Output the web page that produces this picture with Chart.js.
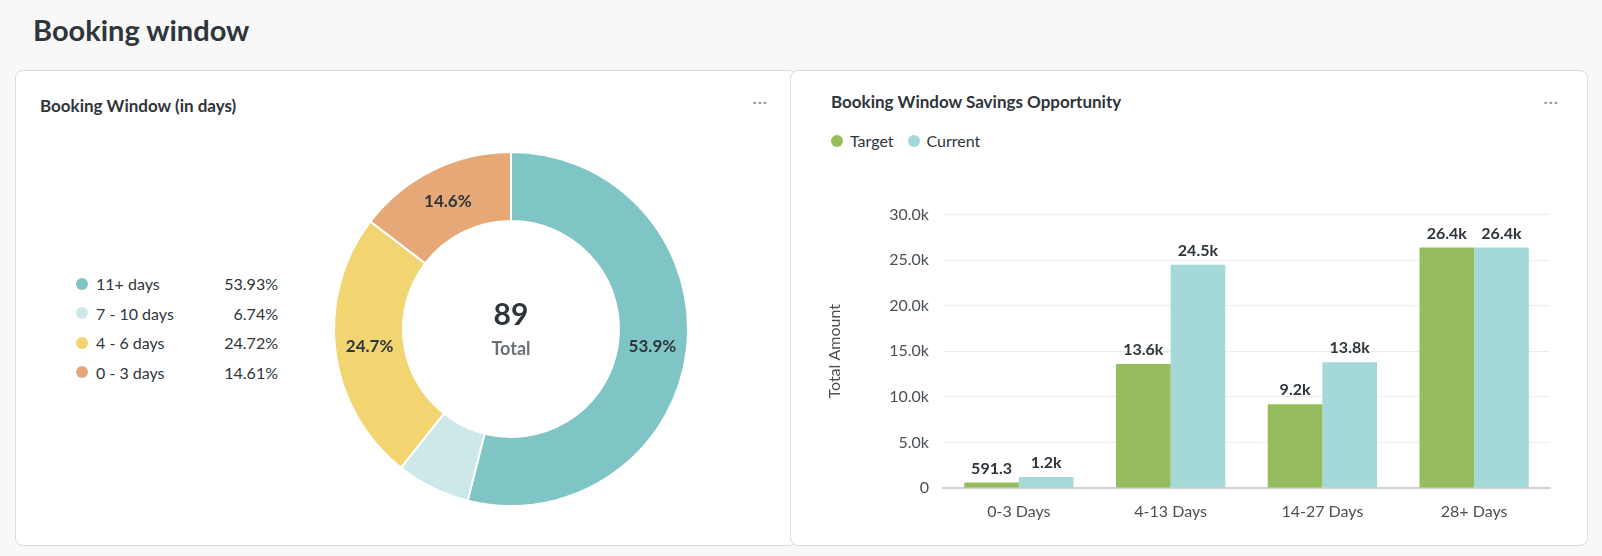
<!DOCTYPE html>
<html>
<head>
<meta charset="utf-8">
<script src="https://cdn.jsdelivr.net/npm/chart.js@4"></script>
<style>
  body { margin: 0; width: 1602px; height: 556px; background: #f8f8f8; font-family: Lato, sans-serif; color: #2e353b; position: relative; overflow: hidden; }
  h1 { position: absolute; left: 33px; top: 12px; margin: 0; font-size: 29px; font-weight: 700; }
  .card { position: absolute; top: 70px; height: 474px; background: #fff; border: 1px solid #dcdcdc; border-radius: 8px; }
  .card h2 { position: absolute; margin: 0; font-size: 17px; font-weight: 700; }
  .dots { position: absolute; top: 20px; right: 28px; color: #8a9096; font-size: 16px; letter-spacing: 1px; }
  .box { position: absolute; }
  .legend { position: absolute; left: 60px; top: 198px; font-size: 16px; }
  .legend div { height: 29.5px; display: flex; align-items: center; }
  .legend i { width: 12px; height: 12px; border-radius: 50%; display: inline-block; margin-right: 8px; }
  .legend span.l { width: 110px; }
  .legend span.v { width: 72px; text-align: right; }
  .blegend { position: absolute; left: 26px; top: 60px; font-size: 16px; display: flex; align-items: center; }
  .blegend i { width: 12px; height: 12px; border-radius: 50%; display: inline-block; margin-right: 7px; }
</style>
</head>
<body>
<h1>Booking window</h1>
<div class="card" style="left:15px; width:780px;">
  <h2 style="left:24px; top:24px;">Booking Window (in days)</h2>
  <div class="dots">···</div>
  <div class="legend" id="pieLegend"></div>
  <div class="box" style="left:305px; top:70px; width:380px; height:376px;"><canvas id="pie"></canvas></div>
</div>
<div class="card" style="left:790px; width:796px;">
  <h2 style="left:40px; top:20px;">Booking Window Savings Opportunity</h2>
  <div class="dots">···</div>
  <div class="blegend" style="left:40px;">
    <i style="background:#95bd5e"></i>Target<i style="background:#a5d8d8; margin-left:14px"></i>Current
  </div>
  <div class="box" style="left:30px; top:120px; width:745px; height:335px;"><canvas id="bars"></canvas></div>
</div>
<script>
const pieLabels = ['11+ days', '7 - 10 days', '4 - 6 days', '0 - 3 days'];
const pieCounts = [48, 6, 22, 13];
const pieColors = ['#7fc5c5', '#cce8e8', '#f2d570', '#e6a876'];

const barCategories = ['0-3 Days', '4-13 Days', '14-27 Days', '28+ Days'];
const targetValues = [591.3, 13600, 9200, 26400];
const currentValues = [1200, 24500, 13800, 26400];

const total = pieCounts.reduce((a, b) => a + b, 0);

// HTML legend for the doughnut
const legendEl = document.getElementById('pieLegend');
pieLabels.forEach((label, i) => {
    const pct = (pieCounts[i] / total * 100).toFixed(2) + '%';
    legendEl.innerHTML += `<div><i style="background:${pieColors[i]}"></i><span class="l">${label}</span><span class="v">${pct}</span></div>`;
});

const pieText = {
    id: 'pieText',
    afterDraw(chart) {
        const ctx = chart.ctx;
        const meta = chart.getDatasetMeta(0);
        ctx.save();
        ctx.textAlign = 'center';
        ctx.textBaseline = 'middle';
        meta.data.forEach((arc, i) => {
            const pct = pieCounts[i] / total * 100;
            if (pct < 10) return;
            const p = arc.tooltipPosition();
            ctx.font = 'bold 17px Lato';
            ctx.fillStyle = '#2e353b';
            ctx.fillText(pct.toFixed(1) + '%', p.x, p.y);
        });
        const a = meta.data[0];
        ctx.font = 'bold 30px Lato';
        ctx.fillStyle = '#2e353b';
        ctx.fillText(String(total), a.x, a.y - 14);
        ctx.font = 'bold 18px Lato';
        ctx.fillStyle = '#6b7075';
        ctx.fillText('Total', a.x, a.y + 20);
        ctx.restore();
    }
};

new Chart(document.getElementById('pie'), {
    type: 'doughnut',
    data: {
        labels: pieLabels,
        datasets: [{
            data: pieCounts,
            backgroundColor: pieColors,
            borderColor: '#fff',
            borderWidth: 2
        }]
    },
    options: {
        responsive: true,
        maintainAspectRatio: false,
        animation: false,
        cutout: '61%',
        layout: { padding: 10 },
        plugins: { legend: { display: false }, tooltip: { enabled: false } }
    },
    plugins: [pieText]
});

function fmt(v) {
    return v < 1000 ? v.toFixed(1) : (v / 1000).toFixed(1) + 'k';
}

const barLabels = {
    id: 'barLabels',
    afterDatasetsDraw(chart) {
        const ctx = chart.ctx;
        ctx.save();
        ctx.font = 'bold 16px Lato';
        ctx.fillStyle = '#2e353b';
        ctx.textAlign = 'center';
        ctx.textBaseline = 'bottom';
        chart.data.datasets.forEach((ds, di) => {
            chart.getDatasetMeta(di).data.forEach((bar, i) => {
                ctx.fillText(fmt(ds.data[i]), bar.x, bar.y - 6);
            });
        });
        ctx.restore();
    }
};

new Chart(document.getElementById('bars'), {
    type: 'bar',
    data: {
        labels: barCategories,
        datasets: [
            { label: 'Target', data: targetValues, backgroundColor: '#95bd5e' },
            { label: 'Current', data: currentValues, backgroundColor: '#a5d8d8' }
        ]
    },
    options: {
        responsive: true,
        maintainAspectRatio: false,
        animation: false,
        barPercentage: 1,
        categoryPercentage: 0.72,
        layout: { padding: { top: 22, right: 16 } },
        plugins: { legend: { display: false }, tooltip: { enabled: false } },
        scales: {
            x: {
                grid: { display: false },
                border: { color: '#d0d0d0', width: 2 },
                ticks: { color: '#4a5055', font: { family: 'Lato', size: 16 }, padding: 6 },
                afterFit(axis) { axis.height = 38; }
            },
            y: {
                min: 0,
                max: 30000,
                ticks: {
                    stepSize: 5000,
                    padding: 14,
                    color: '#4a5055',
                    font: { family: 'Lato', size: 16 },
                    callback: v => v === 0 ? '0' : (v / 1000).toFixed(1) + 'k'
                },
                grid: { color: '#ececec', drawTicks: false },
                border: { display: false },
                title: { display: true, text: 'Total Amount', color: '#4a5055', font: { family: 'Lato', size: 16 }, padding: { bottom: 6 } },
                afterFit(axis) { axis.width = 122; }
            }
        }
    },
    plugins: [barLabels]
});
</script>
</body>
</html>
